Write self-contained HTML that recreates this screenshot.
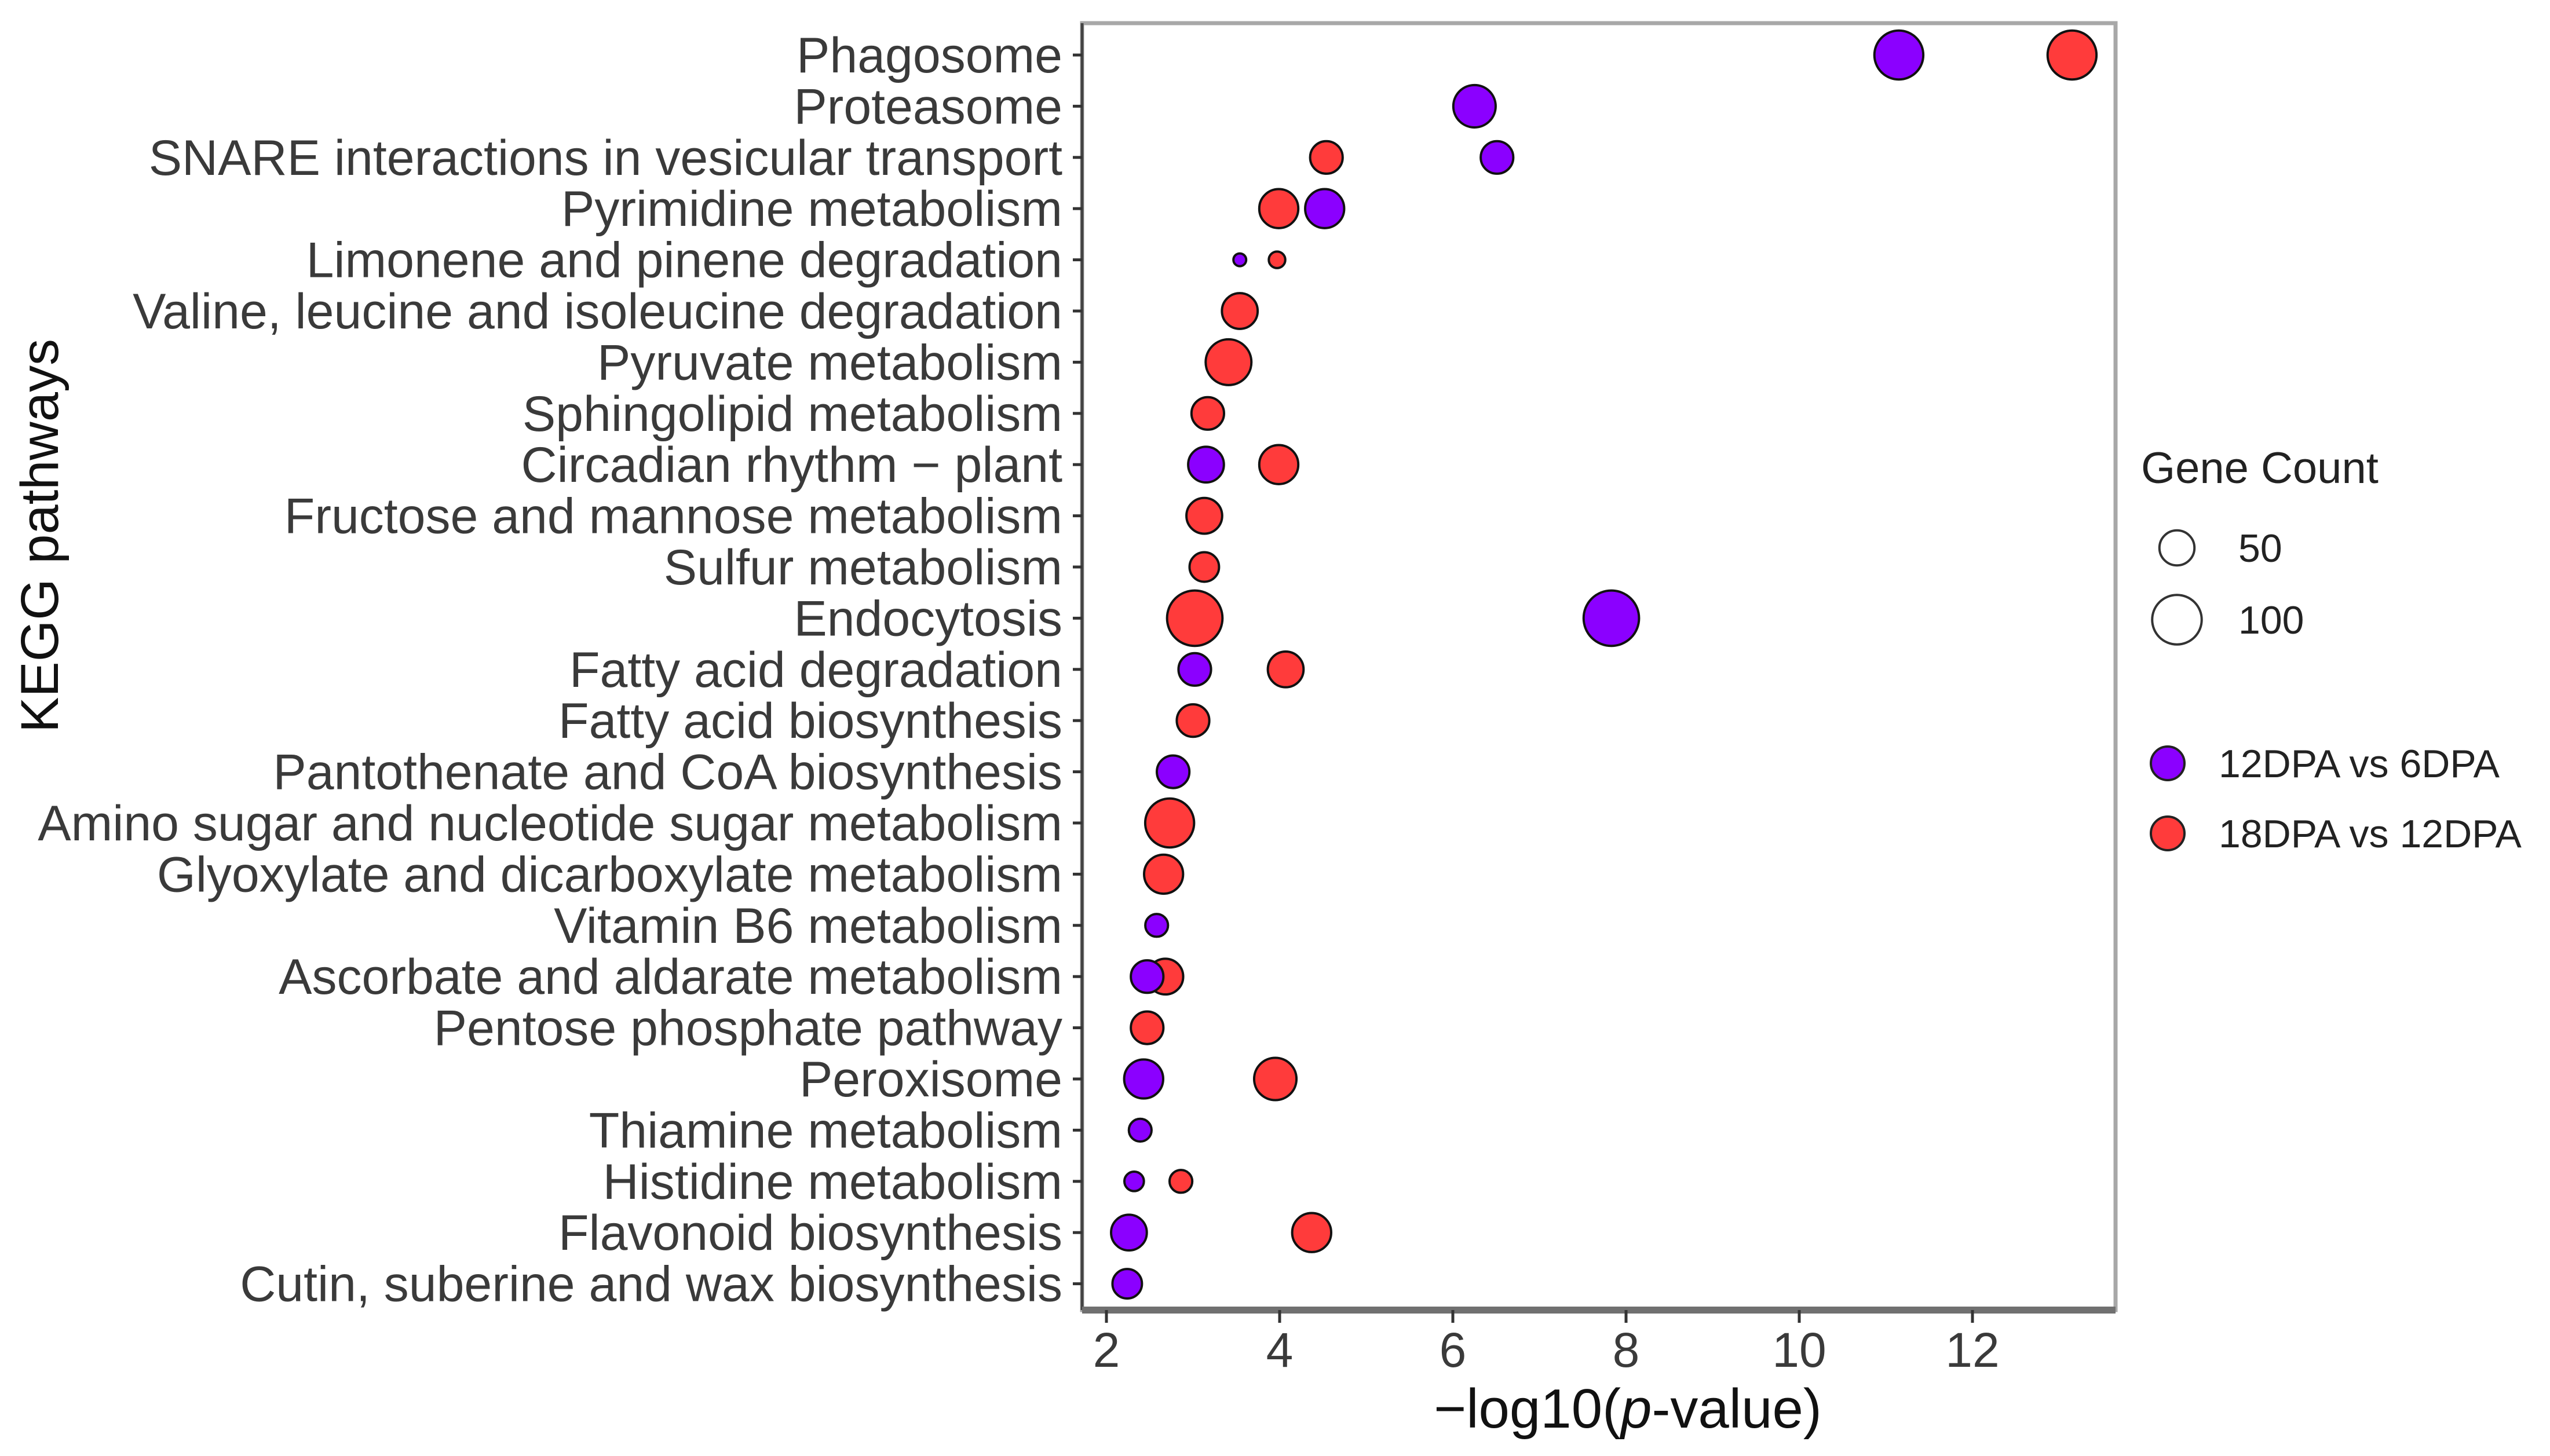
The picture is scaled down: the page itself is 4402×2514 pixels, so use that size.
<!DOCTYPE html>
<html><head><meta charset="utf-8"><style>
body{margin:0;background:#fff;}
svg{display:block;font-family:"Liberation Sans",Arial,sans-serif;}
</style></head><body>
<svg id="chart" width="4402" height="2514" viewBox="0 0 4402 2514">
<rect x="0" y="0" width="4402" height="2514" fill="#fff"/>
<g id="plot"></g>
</svg>
<script>
const pathways=["Phagosome","Proteasome","SNARE interactions in vesicular transport","Pyrimidine metabolism","Limonene and pinene degradation","Valine, leucine and isoleucine degradation","Pyruvate metabolism","Sphingolipid metabolism","Circadian rhythm \u2212 plant","Fructose and mannose metabolism","Sulfur metabolism","Endocytosis","Fatty acid degradation","Fatty acid biosynthesis","Pantothenate and CoA biosynthesis","Amino sugar and nucleotide sugar metabolism","Glyoxylate and dicarboxylate metabolism","Vitamin B6 metabolism","Ascorbate and aldarate metabolism","Pentose phosphate pathway","Peroxisome","Thiamine metabolism","Histidine metabolism","Flavonoid biosynthesis","Cutin, suberine and wax biosynthesis"];
// 12DPA vs 6DPA (null = absent)
const purpleP=[11.15,6.25,6.51,4.52,3.54,null,null,null,3.15,null,null,7.83,3.02,null,2.77,null,null,2.58,2.47,null,2.43,2.39,2.32,2.26,2.24];
const purpleCount=[88,66,39,56,6,null,null,null,47,null,null,113,39,null,39,null,null,19,39,null,56,19,14,47,32];
// 18DPA vs 12DPA
const redP=[13.15,null,4.54,3.99,3.97,3.54,3.41,3.17,3.99,3.13,3.13,3.02,4.07,3.00,null,2.73,2.66,null,2.68,2.47,3.95,null,2.86,4.37,null];
const redCount=[88,null,39,56,10,47,77,39,56,47,32,113,47,39,null,88,56,null,47,39,66,null,19,56,null];
const xTicks=[2,4,6,8,10,12];
const sizeBreaks=[50,100];

const NS="http://www.w3.org/2000/svg";
const g=document.getElementById('plot');
const L=1868,R=3652,T=40,B=2262;
const xs=v=>1910+(v-2)*149.5;
const ys=i=>95+i*88.4;
const rs=c=>4.5*Math.sqrt(c);
function mk(tag,attrs,parent){const e=document.createElementNS(NS,tag);for(const k in attrs)e.setAttribute(k,attrs[k]);(parent||g).appendChild(e);return e;}

const panel=mk('rect',{x:L,y:T,width:R-L,height:B-T,fill:'#fff',stroke:'#a8a8a8','stroke-width':7});


const yaxis=mk('line',{x1:L,y1:T,x2:L,y2:B,stroke:'#444','stroke-width':5});


const xaxis=mk('line',{x1:L,y1:B,x2:R,y2:B,stroke:'#707070','stroke-width':12});



pathways.forEach((p,i)=>{
  const t=mk('line',{x1:L-16,y1:ys(i),x2:L,y2:ys(i),stroke:'#333','stroke-width':5});
  
  
  const tx=mk('text',{x:1834,y:ys(i)+30,'font-size':86,'text-anchor':'end',fill:'#3a3a3a'});
  tx.textContent=p;
  
  
});
xTicks.forEach(v=>{
  const t=mk('line',{x1:xs(v),y1:B,x2:xs(v),y2:B+22,stroke:'#333','stroke-width':5});
  
  
  const tx=mk('text',{x:xs(v),y:B+98,'font-size':84,'text-anchor':'middle',fill:'#3a3a3a'});
  tx.textContent=v;
  
  
});
function series(vals,counts,fill,name){
  vals.forEach((v,i)=>{
    if(v==null)return;
    const c=mk('circle',{cx:xs(v),cy:ys(i),r:rs(counts[i]),fill:fill,stroke:'#111','stroke-width':4});
    
    
  });
}
series(redP,redCount,'#ff3b3b','point-18dpa-vs-12dpa');
series(purpleP,purpleCount,'#8b00ff','point-12dpa-vs-6dpa');

const xt=mk('text',{x:2810,y:2465,'font-size':96,'text-anchor':'middle',fill:'#111'});
xt.innerHTML='\u2212log10(<tspan font-style="italic">p</tspan>-value)';


const yt=mk('text',{x:0,y:0,'font-size':92,'text-anchor':'middle',fill:'#111',transform:'translate(100,925) rotate(-90)'});
yt.textContent='KEGG pathways';



const lt=mk('text',{x:3696,y:834,'font-size':76,fill:'#222'});
lt.textContent='Gene Count';


sizeBreaks.forEach((b,i)=>{
  const cy=[946,1070][i];
  const c=mk('circle',{cx:3758,cy:cy,r:rs(b)*0.95,fill:'none',stroke:'#333','stroke-width':4});
  
  
  const t=mk('text',{x:3864,y:cy+24,'font-size':68,fill:'#222'});
  t.textContent=b;
  
  
});
[['#8b00ff','12DPA vs 6DPA',1318],['#ff3b3b','18DPA vs 12DPA',1439]].forEach(([f,l,cy])=>{
  const c=mk('circle',{cx:3742,cy:cy,r:29,fill:f,stroke:'#222','stroke-width':4});
  
  
  const t=mk('text',{x:3830,y:cy+24,'font-size':68,fill:'#222'});
  t.textContent=l;
  
  
});
</script>
</body></html>
